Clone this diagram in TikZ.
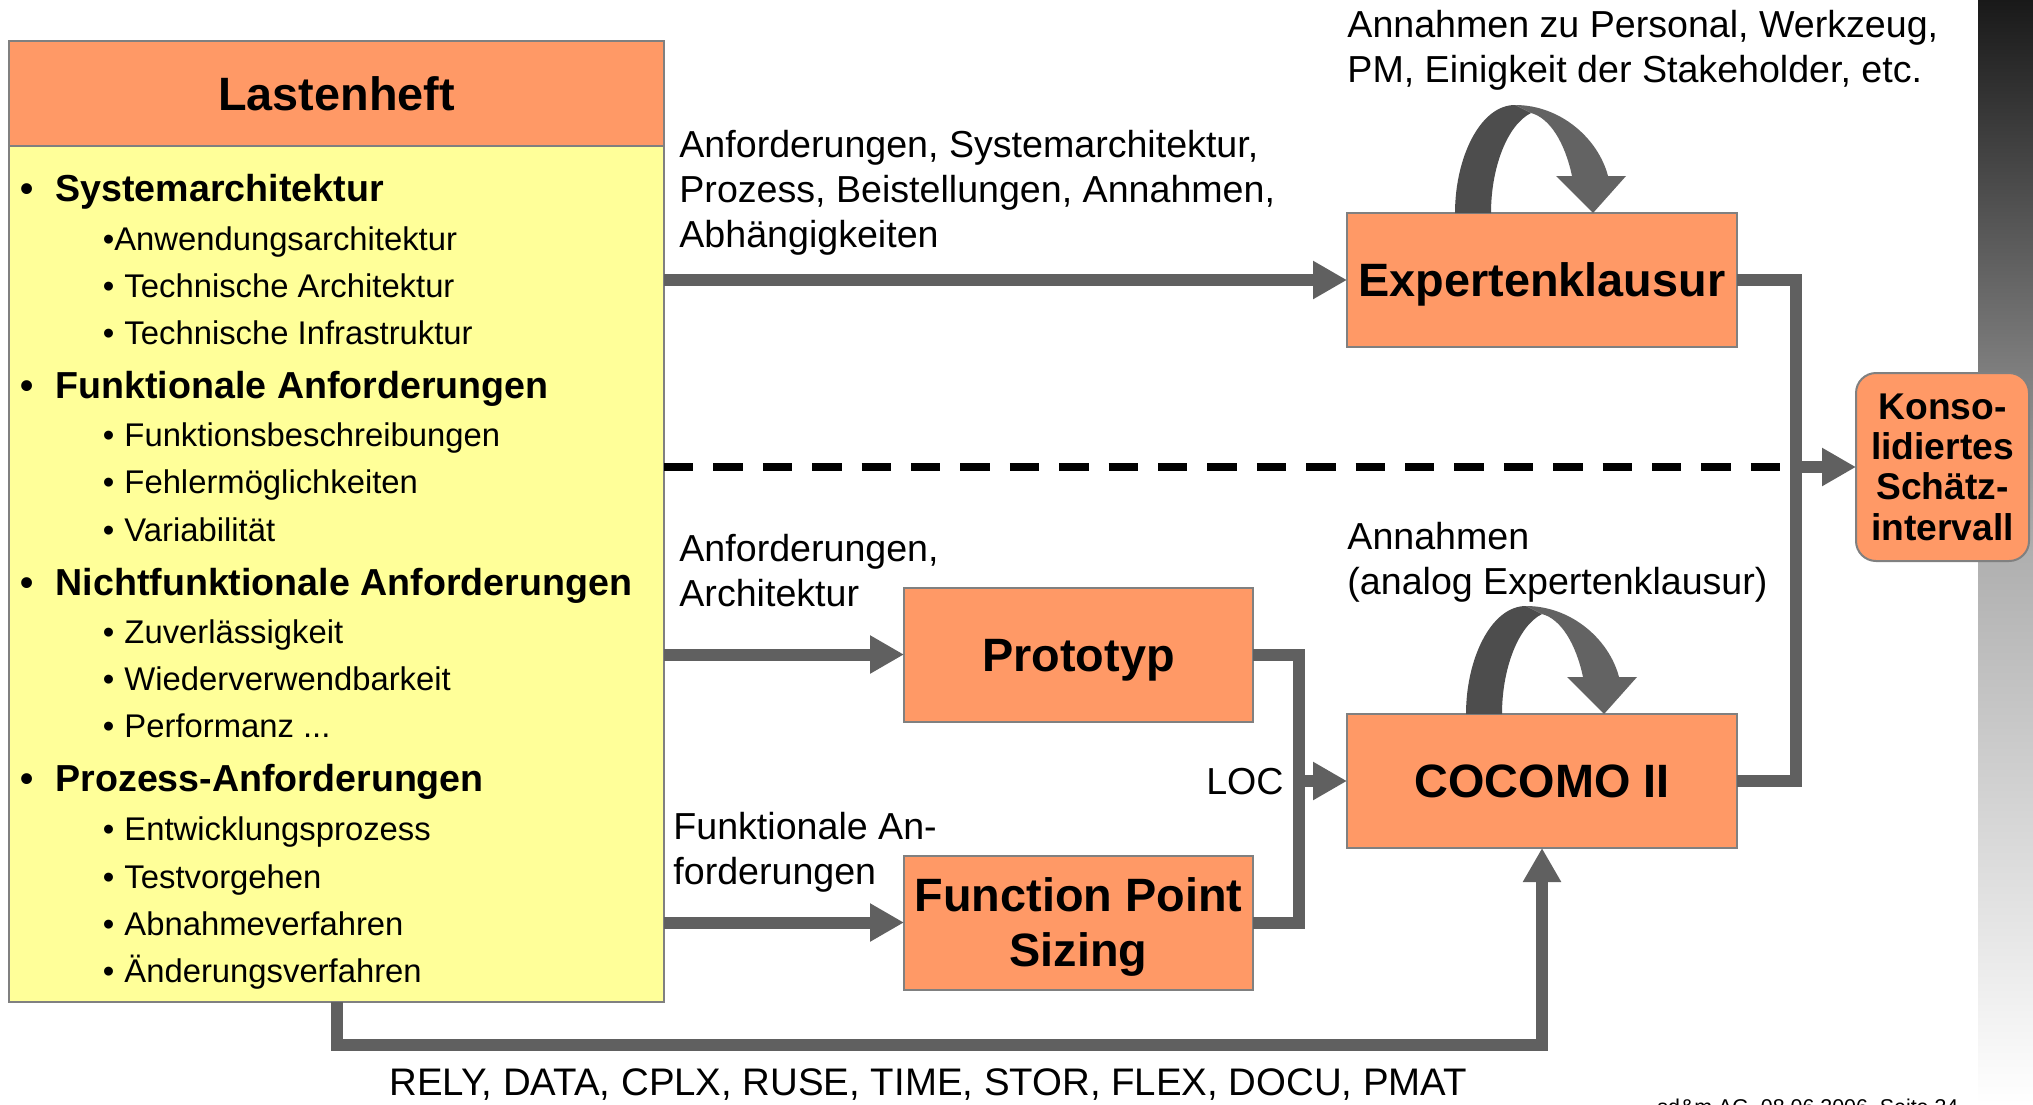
\documentclass[tikz,border=0pt]{standalone}
\usepackage{fontspec}
\setmainfont{Liberation Sans}
\usetikzlibrary{arrows.meta}
\definecolor{orangefill}{RGB}{255,153,102}
\definecolor{yellowfill}{RGB}{255,255,153}
\definecolor{bordergray}{RGB}{128,128,128}
\definecolor{linegray}{RGB}{96,96,96}
\definecolor{loopdark}{RGB}{77,77,77}
\definecolor{looplight}{RGB}{99,99,99}
\definecolor{stripdark}{RGB}{25,25,25}
\definecolor{stripmid}{RGB}{175,175,175}
\newcommand{\drawloopshape}[2]{%
  \begin{scope}[shift={(#1,#2)}]
    \fill[loopdark] (0,0) .. controls (0,-55) and (25,-108) .. (60,-108) -- (76,-100) .. controls (52,-88) and (36,-45) .. (36,0) -- cycle;
    \fill[looplight] (60,-108) .. controls (105,-108) and (143,-75) .. (153,-37) -- (117,-37) .. controls (110,-70) and (95,-95) .. (76,-100) -- cycle;
    \fill[looplight] (101,-37) -- (171,-37) -- (138,0) -- cycle;
  \end{scope}}
\begin{document}
\begin{tikzpicture}[x=0.5pt,y=-0.5pt,
  conn/.style={draw=linegray, line width=6pt, line join=miter},
  arr/.style={conn, -{Triangle[length=17pt,width=18pt]}},
  dashline/.style={draw=black, line width=3.85pt, dash pattern=on 14.7pt off 10pt},
  obox/.style={draw=bordergray, line width=1pt, fill=orangefill, inner sep=0pt, outer sep=0pt,
    font=\bfseries\fontsize{23.4pt}{27.5pt}\selectfont, text height=16.75pt, text depth=0pt, align=center},
  ybox/.style={draw=bordergray, line width=1pt, fill=yellowfill, inner sep=0pt, outer sep=0pt},
  kbox/.style={draw=bordergray, line width=1pt, fill=orangefill, rounded corners=10pt, inner sep=0pt, outer sep=0pt,
    font=\bfseries\fontsize{18.6pt}{20.1pt}\selectfont, text depth=0pt, align=center},
  mainitem/.style={anchor=base west, inner sep=0pt, font=\bfseries\fontsize{18.8pt}{22.5pt}\selectfont},
  subitem/.style={anchor=base west, inner sep=0pt, font=\fontsize{16.4pt}{20pt}\selectfont},
  lbl/.style={anchor=base west, inner sep=0pt, align=left, font=\fontsize{18.8pt}{22.5pt}\selectfont}
]
\useasboundingbox (0,0) rectangle (2033,1104);
\fill[white] (0,0) rectangle (2033,1104);
\shade[top color=stripdark, bottom color=white, middle color=stripmid] (1978,0) rectangle (2033,1104);

% Lastenheft
\node[ybox, minimum width=327.5pt, minimum height=480.5pt] (lasten) at (336.5,521.5) {};
\node[obox, minimum width=327.5pt, minimum height=52.5pt] (lhead) at (336.5,93.5) {Lastenheft};

\node[mainitem] (m1) at (20.2,201) {\makebox[17.5pt][l]{•}Systemarchitektur};
\node[subitem] (s11) at (102.4,250) {•Anwendungsarchitektur};
\node[subitem] (s12) at (102.4,297) {\makebox[10.85pt][l]{•}Technische Architektur};
\node[subitem] (s13) at (102.4,344) {\makebox[10.85pt][l]{•}Technische Infrastruktur};
\node[mainitem] (m2) at (20.2,398) {\makebox[17.5pt][l]{•}Funktionale Anforderungen};
\node[subitem] (s21) at (102.4,446) {\makebox[10.85pt][l]{•}Funktionsbeschreibungen};
\node[subitem] (s22) at (102.4,493) {\makebox[10.85pt][l]{•}Fehlermöglichkeiten};
\node[subitem] (s23) at (102.4,541) {\makebox[10.85pt][l]{•}Variabilität};
\node[mainitem] (m3) at (20.2,595) {\makebox[17.5pt][l]{•}Nichtfunktionale Anforderungen};
\node[subitem] (s31) at (102.4,643) {\makebox[10.85pt][l]{•}Zuverlässigkeit};
\node[subitem] (s32) at (102.4,690) {\makebox[10.85pt][l]{•}Wiederverwendbarkeit};
\node[subitem] (s33) at (102.4,737) {\makebox[10.85pt][l]{•}Performanz ...};
\node[mainitem] (m4) at (20.2,791) {\makebox[17.5pt][l]{•}Prozess-Anforderungen};
\node[subitem] (s41) at (102.4,840) {\makebox[10.85pt][l]{•}Entwicklungsprozess};
\node[subitem] (s42) at (102.4,888) {\makebox[10.85pt][l]{•}Testvorgehen};
\node[subitem] (s43) at (102.4,935) {\makebox[10.85pt][l]{•}Abnahmeverfahren};
\node[subitem] (s44) at (102.4,982) {\makebox[10.85pt][l]{•}Änderungsverfahren};

% method boxes
\node[obox, minimum width=195pt, minimum height=67pt] (exp) at (1542,280) {Expertenklausur};
\node[obox, minimum width=174.5pt, minimum height=67pt] (proto) at (1078.5,654.5) {Prototyp};
\node[obox, minimum width=174.5pt, minimum height=67pt, text height=44.25pt] (fps) at (1078.5,922.5) {Function Point\\Sizing};
\node[obox, minimum width=195pt, minimum height=67pt] (coc) at (1542,781) {COCOMO II};
\node[kbox, minimum width=86.5pt, minimum height=94pt] (konso) at (1942.5,467) {Konso-\\lidiertes\\Schätz-\\intervall};

% loops
\drawloopshape{1455}{213}
\drawloopshape{1466}{714}

% helper coordinates
\coordinate (xr) at (1796,0);
\coordinate (xl) at (1299,0);
\coordinate (yb) at (0,1045);
\coordinate (dashend) at (1783,0);

% connectors
\draw[arr] (lasten.east |- exp.west) -- (exp.west);
\draw[dashline] (lasten.east |- konso.west) -- (dashend |- konso.west);
\draw[conn] (exp.east) -- (xr |- exp.east) -- (xr |- coc.east) -- (coc.east);
\draw[arr] (xr |- konso.west) -- (konso.west);
\draw[arr] (lasten.east |- proto.west) -- (proto.west);
\draw[arr] (lasten.east |- fps.west) -- (fps.west);
\draw[conn] (proto.east) -- (xl |- proto.east) -- (xl |- fps.east) -- (fps.east);
\draw[arr] (xl |- coc.west) -- (coc.west);
\draw[arr] (lasten.south) -- (lasten.south |- yb) -- (coc.south |- yb) -- (coc.south);

% labels (anchored at the baseline of their last line)
\node[lbl] (l1) at (1347,82) {Annahmen zu Personal, Werkzeug,\\PM, Einigkeit der Stakeholder, etc.};
\node[lbl] (l2) at (679,247) {Anforderungen, Systemarchitektur,\\Prozess, Beistellungen, Annahmen,\\Abhängigkeiten};
\node[lbl] (l3) at (679,606) {Anforderungen,\\Architektur};
\node[lbl] (l4) at (673,884) {Funktionale An-\\forderungen};
\node[lbl] (l5) at (1347,594) {Annahmen\\(analog Expertenklausur)};
\node[anchor=base east, inner sep=0pt, font=\fontsize{18.8pt}{22.5pt}\selectfont] (loc) at (1284,794) {LOC};
\node[anchor=base west, inner sep=0pt, font=\fontsize{19.2pt}{23pt}\selectfont] (drivers) at (389,1095) {RELY, DATA, CPLX, RUSE, TIME, STOR, FLEX, DOCU, PMAT};
\node[anchor=base west, inner sep=0pt, font=\fontsize{10.7pt}{13pt}\selectfont] (footer) at (1657,1114) {sd\&m AG, 08.06.2006, Seite 34};
\end{tikzpicture}
\end{document}
